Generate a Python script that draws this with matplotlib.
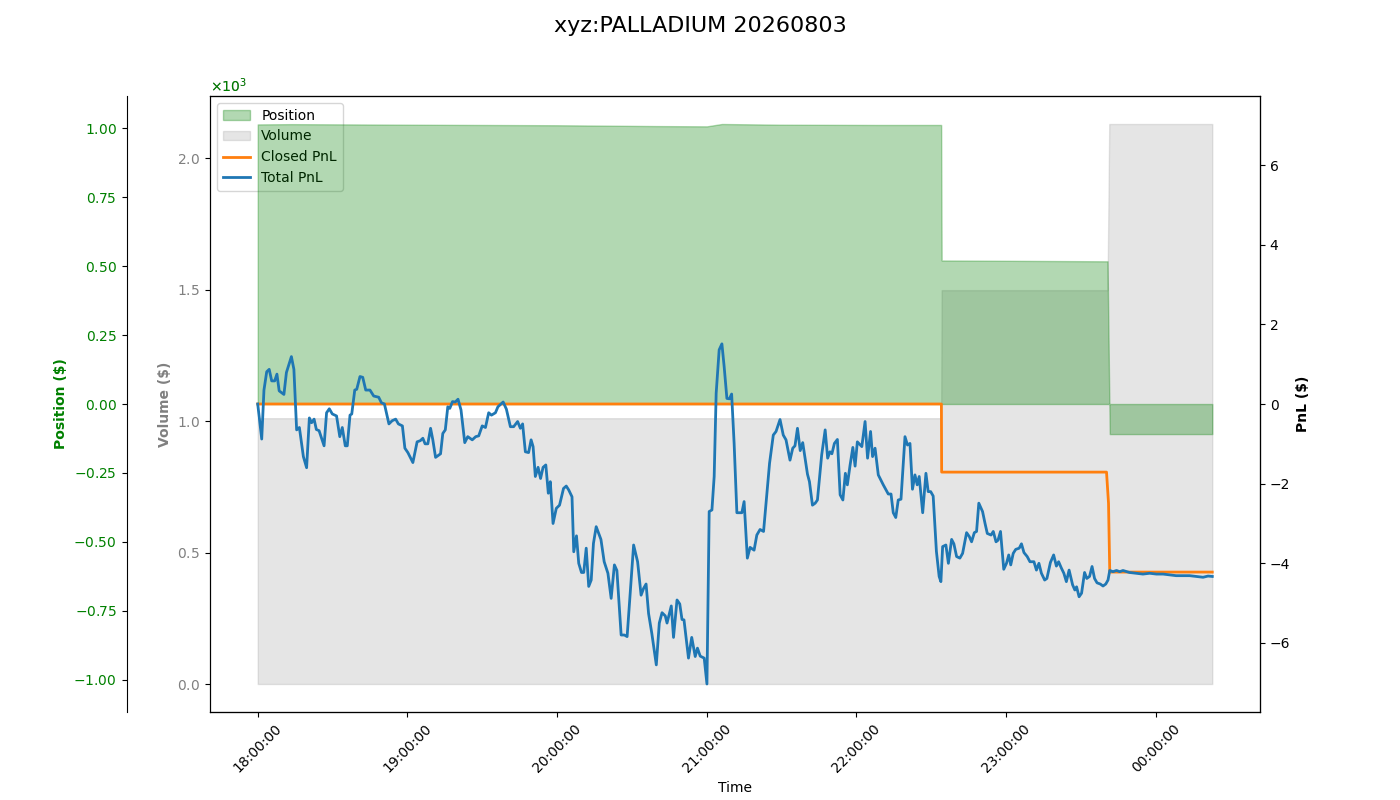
import matplotlib
matplotlib.use("Agg")
import matplotlib.pyplot as plt
import matplotlib.dates as mdates
import numpy as np
import pandas as pd
from matplotlib.ticker import ScalarFormatter

title = "xyz:PALLADIUM 20260803"
session_start = pd.Timestamp("2026-08-03 18:00:00")

# minutes after session start, total pnl in $
pnl_minutes = [
    0, 1.6, 2.5, 3.6, 4.6, 5.6, 6.8, 7.7, 8.6, 10.5,
    11.5, 13.5, 14.5, 15.6, 16.7, 18.3, 19.6, 20.7, 21.6, 22.6,
    23.5, 24.6, 26.6, 27.6, 28.7, 29.9, 31.6, 32.9, 33.9, 35.1,
    35.9, 37.0, 37.7, 38.9, 39.7, 41.0, 42.1, 43.3, 45.0, 46.5,
    48.5, 49.6, 50.8, 52.6, 53.9, 55.3, 56.4, 58.0, 59.0, 60.2,
    62.2, 63.9, 65.2, 66.2, 67.1, 68.2, 69.3, 70.2, 71.3, 73.3,
    74.2, 75.2, 76.2, 77.0, 78.1, 79.2, 80.3, 81.5, 83.0, 84.2,
    86.0, 87.4, 88.6, 90.0, 91.3, 92.6, 93.7, 95.3, 96.3, 98.4,
    99.7, 101.3, 102.6, 104.2, 105.3, 106.2, 107.3, 108.6, 109.6, 110.4,
    111.3, 112.4, 113.4, 114.4, 115.5, 116.5, 117.3, 118.4, 119.7, 121.0,
    122.6, 123.7, 124.7, 126.0, 126.7, 127.8, 128.7, 129.8, 130.7, 131.7,
    132.7, 133.7, 134.6, 135.7, 137.6, 138.9, 140.4, 141.7, 143.0, 144.0,
    145.7, 147.0, 148.1, 150.7, 152.3, 153.7, 154.7, 155.7, 156.7, 158.0,
    159.8, 161.0, 162.1, 163.4, 164.1, 165.8, 166.7, 168.1, 169.2, 170.1,
    170.9, 172.7, 174.0, 175.4, 176.3, 177.4, 179.0, 180.1, 181.0, 182.1,
    183.0, 183.8, 185.0, 186.1, 187.0, 188.1, 189.1, 190.0, 191.0, 192.1,
    194.1, 195.0, 196.3, 197.4, 199.0, 200.1, 201.4, 202.8, 205.2, 206.7,
    207.8, 209.4, 210.7, 211.8, 213.4, 214.5, 215.4, 216.4, 217.5, 218.5,
    220.4, 221.2, 222.4, 223.5, 224.4, 226.1, 227.5, 228.5, 229.4, 230.2,
    231.2, 232.4, 233.5, 234.6, 235.6, 236.4, 237.5, 238.6, 239.5, 240.4,
    242.2, 243.5, 244.5, 245.7, 246.5, 247.5, 248.8, 250.8, 252.8, 253.9,
    254.8, 255.8, 256.8, 257.9, 259.5, 260.5, 261.5, 262.5, 263.5, 264.4,
    265.2, 266.6, 267.9, 268.8, 269.8, 270.8, 272.1, 273.2, 273.9, 274.6,
    275.9, 276.9, 278.2, 279.1, 280.2, 281.5, 282.6, 284.2, 285.3, 286.2,
    287.3, 288.2, 289.1, 290.6, 291.6, 292.5, 294.0, 294.9, 296.0, 296.8,
    297.8, 299.1, 300.2, 301.1, 301.9, 302.9, 303.9, 305.3, 306.2, 307.2,
    308.5, 309.6, 311.2, 312.2, 313.2, 314.2, 315.5, 316.4, 317.8, 319.1,
    320.2, 321.1, 322.2, 323.2, 324.2, 325.3, 326.7, 327.6, 328.3, 329.3,
    330.3, 331.5, 332.4, 333.5, 334.5, 335.5, 336.5, 337.8, 338.9, 340.0,
    340.9, 341.6, 342.9, 344.3, 345.6, 346.9, 349.5, 352.2, 354.9, 357.6,
    360.3, 363.0, 365.6, 368.2, 373.6, 376.3, 379.0, 381.0, 382.7,
]
total_pnl = [
    0.00, -0.88, 0.35, 0.81, 0.87, 0.58, 0.58, 0.75, 0.33, 0.24,
    0.79, 1.19, 0.87, -0.65, -0.59, -1.32, -1.60, -0.35, -0.47, -0.38,
    -0.64, -0.67, -1.05, -0.22, -0.12, -0.25, -0.30, -0.82, -0.59, -1.05,
    -1.05, -0.28, -0.25, 0.35, 0.37, 0.69, 0.67, 0.35, 0.35, 0.20,
    0.17, 0.03, 0.00, -0.50, -0.42, -0.38, -0.50, -0.55, -1.11, -1.22,
    -1.47, -0.95, -0.92, -0.86, -1.00, -1.00, -0.61, -0.90, -1.34, -1.25,
    -0.74, -0.65, -0.07, -0.11, 0.06, 0.05, 0.12, -0.15, -0.97, -0.82,
    -0.90, -0.82, -0.80, -0.55, -0.59, -0.22, -0.28, -0.22, -0.07, 0.05,
    -0.13, -0.57, -0.57, -0.44, -0.61, -0.50, -1.20, -1.22, -0.90, -1.07,
    -1.82, -1.59, -1.87, -1.59, -1.53, -2.24, -1.95, -3.00, -2.62, -2.54,
    -2.12, -2.06, -2.16, -2.33, -3.71, -3.31, -4.00, -4.23, -4.23, -3.62,
    -4.58, -4.42, -3.50, -3.08, -3.40, -3.96, -4.25, -4.88, -4.04, -4.18,
    -5.80, -5.80, -5.84, -3.54, -3.96, -4.80, -4.63, -4.52, -5.26, -5.76,
    -6.55, -5.50, -5.24, -5.32, -5.50, -5.07, -5.86, -4.92, -5.02, -5.41,
    -5.42, -6.38, -5.86, -6.34, -6.13, -6.33, -6.38, -7.03, -2.70, -2.66,
    -1.82, 0.27, 1.36, 1.51, 0.94, 0.14, 0.13, 0.25, -0.99, -2.73,
    -2.73, -2.45, -3.87, -3.60, -3.67, -3.29, -3.15, -3.20, -1.49, -0.78,
    -0.69, -0.39, -0.78, -0.90, -1.41, -1.11, -1.05, -0.61, -1.17, -0.97,
    -1.76, -1.95, -2.54, -2.49, -2.41, -1.28, -0.65, -1.36, -1.20, -1.25,
    -0.99, -0.89, -2.28, -2.41, -1.74, -2.03, -1.53, -1.09, -1.56, -0.95,
    -1.07, -0.44, -1.36, -0.69, -1.32, -1.11, -1.78, -2.03, -2.26, -2.26,
    -2.73, -2.85, -2.41, -2.39, -0.82, -1.03, -0.99, -2.14, -1.78, -2.03,
    -1.82, -2.73, -1.74, -2.20, -2.20, -2.31, -3.70, -4.33, -4.46, -3.58,
    -3.54, -4.00, -3.40, -3.51, -3.83, -3.87, -3.75, -3.23, -3.33, -3.46,
    -3.23, -3.20, -2.49, -2.70, -3.00, -3.25, -3.29, -3.20, -3.46, -3.42,
    -3.20, -4.15, -4.00, -3.79, -4.04, -3.75, -3.65, -3.62, -3.51, -3.73,
    -3.83, -3.96, -3.96, -4.17, -4.00, -4.25, -4.42, -4.38, -3.98, -3.79,
    -4.07, -3.96, -4.12, -4.25, -4.46, -4.17, -4.54, -4.67, -4.59, -4.84,
    -4.75, -4.23, -4.38, -4.33, -4.08, -4.38, -4.49, -4.52, -4.57, -4.52,
    -4.42, -4.18, -4.21, -4.18, -4.21, -4.18, -4.23, -4.25, -4.27, -4.25,
    -4.27, -4.27, -4.29, -4.31, -4.31, -4.33, -4.35, -4.32, -4.33,
]

closed_minutes = [0, 274.1, 274.2, 340.3, 341.1, 341.6, 382.7]
closed_pnl = [0, 0, -1.71, -1.71, -2.49, -4.22, -4.22]

pos_minutes = [0, 13.5, 60.2, 119.7, 159.8, 180.1, 186.1, 209.4, 248.8, 274.0,
               274.2, 298.3, 340.7, 341.6, 382.7]
position = [1013, 1014, 1012, 1010, 1007, 1006, 1014.5, 1012, 1011, 1011,
            520, 519, 517, -109, -109]

vol_minutes = [0, 274.0, 274.2, 340.7, 341.4, 382.7]
volume = [1011, 1011, 1498, 1498, 2130, 2130]


def to_times(minutes):
    return np.asarray(session_start + pd.to_timedelta(minutes, unit="min"))


def sci_formatter():
    fmt = ScalarFormatter(useMathText=True)
    fmt.set_powerlimits((0, 0))
    return fmt


fig = plt.figure(figsize=(14, 8), dpi=100)
ax_vol = fig.add_axes([0.15, 0.11, 0.75, 0.77])

# volume on the host axes
vol_fill = ax_vol.fill_between(to_times(vol_minutes), 0, volume,
                               color="gray", alpha=0.2, label="Volume")
ax_vol.set_ylabel("Volume ($)", color="gray", fontweight="bold")
ax_vol.tick_params(axis="y", labelcolor="gray")
ax_vol.yaxis.set_major_formatter(sci_formatter())
ax_vol.yaxis.get_offset_text().set_color("gray")

# position on an outer left axis
ax_pos = ax_vol.twinx()
ax_pos.spines["left"].set_position(("outward", 60))
ax_pos.spines["left"].set_visible(True)
ax_pos.yaxis.set_label_position("left")
ax_pos.yaxis.set_ticks_position("left")
ax_pos.yaxis.set_offset_position("left")
pos_fill = ax_pos.fill_between(to_times(pos_minutes), 0, position,
                               color="green", alpha=0.3, label="Position")
lim = 1.1 * max(abs(p) for p in position)
ax_pos.set_ylim(-lim, lim)
ax_pos.set_ylabel("Position ($)", color="green", fontweight="bold")
ax_pos.tick_params(axis="y", labelcolor="green")
ax_pos.yaxis.set_major_formatter(sci_formatter())
ax_pos.yaxis.get_offset_text().set_color("green")

# pnl on the right
ax_pnl = ax_vol.twinx()
line_closed, = ax_pnl.plot(to_times(closed_minutes), closed_pnl,
                           color="tab:orange", lw=2, label="Closed PnL")
line_total, = ax_pnl.plot(to_times(pnl_minutes), total_pnl,
                          color="tab:blue", lw=2, label="Total PnL")
plim = 1.1 * max(abs(v) for v in total_pnl + closed_pnl)
ax_pnl.set_ylim(-plim, plim)
ax_pnl.set_ylabel("PnL ($)", fontweight="bold")

ax_vol.xaxis.set_major_locator(mdates.HourLocator())
ax_vol.xaxis.set_major_formatter(mdates.DateFormatter("%H:%M:%S"))
plt.setp(ax_vol.get_xticklabels(), rotation=45)
ax_vol.set_xlabel("Time")

ax_vol.legend([pos_fill, vol_fill, line_closed, line_total],
              ["Position", "Volume", "Closed PnL", "Total PnL"], loc="upper left")

fig.suptitle(title, fontsize=16)

fig.savefig("out.png", dpi=100)
